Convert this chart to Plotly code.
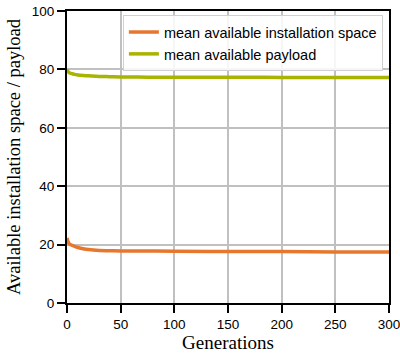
import plotly.graph_objects as go

generations = [0, 1, 2, 3, 5, 7, 10, 15, 20, 30, 40, 50, 75, 100, 150, 200, 250, 300]
space = [22.3, 21.0, 20.3, 20.0, 19.7, 19.4, 19.0, 18.6, 18.3, 18.0, 17.9, 17.8, 17.8, 17.7, 17.6, 17.6, 17.5, 17.5]
payload = [80.0, 79.3, 78.9, 78.7, 78.5, 78.3, 78.1, 77.9, 77.8, 77.6, 77.5, 77.4, 77.35, 77.3, 77.3, 77.25, 77.2, 77.2]

x_ticks = [0, 50, 100, 150, 200, 250, 300]
y_ticks = [0, 20, 40, 60, 80, 100]

fig = go.Figure()
fig.add_trace(go.Scatter(x=generations, y=space, mode="lines",
                         name="mean available installation space",
                         line=dict(color="#e8772e", width=3.5, shape="spline")))
fig.add_trace(go.Scatter(x=generations, y=payload, mode="lines",
                         name="mean available payload",
                         line=dict(color="#a8b400", width=3.5, shape="spline")))

axis_common = dict(showline=True, linecolor="black", linewidth=2, mirror=True,
                   ticks="outside", ticklen=8, tickwidth=2, tickcolor="black",
                   showgrid=True, gridcolor="#c0c0c0", gridwidth=1.5, zeroline=False,
                   automargin=False, ticklabeloverflow="allow",
                   tickfont=dict(family="Liberation Sans, Arial", size=13.5, color="black"))

fig.update_xaxes(range=[0, 300], tickvals=x_ticks,
                 title=dict(text="Generations", font=dict(family="Liberation Serif, Times New Roman", size=19, color="black"), standoff=4),
                 **axis_common)
fig.update_yaxes(range=[0, 100], tickvals=y_ticks,
                 title=dict(text="Available installation space / payload", font=dict(family="Liberation Serif, Times New Roman", size=18.5, color="black"), standoff=6),
                 **axis_common)

fig.update_layout(
    width=400, height=361,
    margin=dict(l=67, r=11, t=11, b=58),
    plot_bgcolor="white", paper_bgcolor="white",
    showlegend=True,
    legend=dict(x=0.981, y=0.986, xanchor="right", yanchor="top",
                bgcolor="rgba(255,255,255,0.85)", bordercolor="#d0d0d0", borderwidth=1,
                font=dict(family="Liberation Sans, Arial", size=14.5, color="black"),
                itemwidth=30, tracegroupgap=0),
)

fig.write_html("out.html")
